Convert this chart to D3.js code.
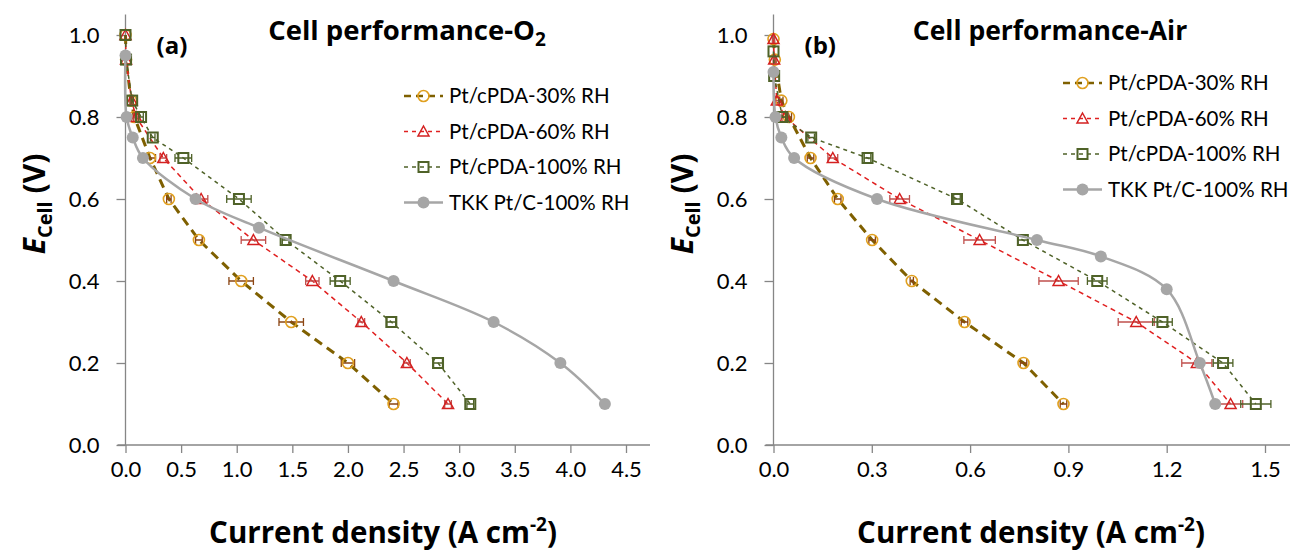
<!DOCTYPE html>
<html><head><meta charset="utf-8">
<script src="https://cdn.jsdelivr.net/npm/d3@7"></script>
<style>
html,body{margin:0;padding:0;background:#fff;}
svg{display:block;font-family:Lato,"Open Sans",sans-serif;}
</style></head>
<body>
<svg id="chart" width="1295" height="553"></svg>
<script>
// ---------- DATA ----------
const seriesNames = ["Pt/cPDA-30% RH", "Pt/cPDA-60% RH", "Pt/cPDA-100% RH", "TKK Pt/C-100% RH"];
const xTicksA = [0, 0.5, 1.0, 1.5, 2.0, 2.5, 3.0, 3.5, 4.0, 4.5];
const xTicksB = [0, 0.3, 0.6, 0.9, 1.2, 1.5];
const yTicks = [0, 0.2, 0.4, 0.6, 0.8, 1.0];

// Panel (a): O2
const vA30 = [1.0, 0.94, 0.84, 0.8, 0.7, 0.6, 0.5, 0.4, 0.3, 0.2, 0.1];
const iA30 = [0, 0.005, 0.05, 0.08, 0.22, 0.39, 0.66, 1.04, 1.49, 2.0, 2.41];
const eA30 = [0, 0, 0.01, 0.01, 0.05, 0.02, 0.03, 0.11, 0.11, 0.06, 0.04];
const vA60 = [1.0, 0.94, 0.84, 0.8, 0.7, 0.6, 0.5, 0.4, 0.3, 0.2, 0.1];
const iA60 = [0, 0.005, 0.055, 0.095, 0.34, 0.68, 1.15, 1.68, 2.12, 2.53, 2.9];
const eA60 = [0, 0, 0.01, 0.02, 0.03, 0.06, 0.11, 0.06, 0.03, 0.03, 0.03];
const vA100 = [1.0, 0.94, 0.84, 0.8, 0.75, 0.7, 0.6, 0.5, 0.4, 0.3, 0.2, 0.1];
const iA100 = [0, 0.005, 0.06, 0.14, 0.245, 0.52, 1.02, 1.44, 1.93, 2.39, 2.81, 3.1];
const eA100 = [0, 0, 0.01, 0.02, 0.02, 0.075, 0.11, 0.03, 0.09, 0.04, 0.04, 0.03];
const vATKK = [0.95, 0.8, 0.75, 0.7, 0.6, 0.53, 0.4, 0.3, 0.2, 0.1];
const iATKK = [0, 0.01, 0.065, 0.157, 0.63, 1.2, 2.41, 3.31, 3.91, 4.31];

// Panel (b): Air
const vB30 = [0.99, 0.94, 0.84, 0.8, 0.7, 0.6, 0.5, 0.4, 0.3, 0.2, 0.1];
const iB30 = [0, 0.004, 0.024, 0.047, 0.113, 0.196, 0.301, 0.422, 0.583, 0.763, 0.885];
const eB30 = [0.003, 0.003, 0.005, 0.008, 0.01, 0.01, 0.01, 0.005, 0.01, 0.01, 0.01];
const vB60 = [0.99, 0.94, 0.84, 0.8, 0.7, 0.6, 0.5, 0.4, 0.3, 0.2, 0.1];
const iB60 = [0, 0.002, 0.01, 0.036, 0.181, 0.385, 0.629, 0.87, 1.107, 1.292, 1.395];
const eB60 = [0.003, 0.003, 0.005, 0.01, 0.015, 0.03, 0.048, 0.06, 0.055, 0.046, 0.037];
const vB100 = [0.96, 0.9, 0.8, 0.75, 0.7, 0.6, 0.5, 0.4, 0.3, 0.2, 0.1];
const iB100 = [0, 0.002, 0.027, 0.115, 0.287, 0.56, 0.761, 0.988, 1.187, 1.372, 1.472];
const eB100 = [0, 0, 0.01, 0.01, 0.01, 0.01, 0.015, 0.03, 0.03, 0.03, 0.046];
const vBTKK = [0.91, 0.8, 0.75, 0.7, 0.6, 0.5, 0.46, 0.38, 0.2, 0.1];
const iBTKK = [0, 0.006, 0.024, 0.063, 0.316, 0.804, 0.999, 1.2, 1.301, 1.348];

// ---------- STYLES ----------
const styles = [
  {line:"#7f6000", width:3, dash:"9,6", marker:"circle", mstroke:"#e0a020", ebar:"#8b4513"},
  {line:"#e02020", width:1.5, dash:"5,4", marker:"triangle", mstroke:"#d42020", ebar:"#c0504d"},
  {line:"#4f6228", width:1.5, dash:"4,4", marker:"square", mstroke:"#4f6228", ebar:"#4f6228"},
  {line:"#a6a6a6", width:2.5, dash:null, marker:"dot", mstroke:"#a6a6a6", ebar:null}
];
const titleFont = "'Open Sans', Lato, sans-serif";
const bodyFont = "Lato, sans-serif";

const svg = d3.select("#chart");
const zip = (xs, ys, es) => xs.map((x, i) => ({x, y: ys[i], e: es ? es[i] : 0}));

function drawMarker(g, type, cx, cy, st) {
  if (type === "circle") {
    g.append("circle").attr("cx", cx).attr("cy", cy).attr("r", 5.5)
      .attr("fill", "none").attr("stroke", st.mstroke).attr("stroke-width", 1.6);
  } else if (type === "triangle") {
    const s = 5.5;
    g.append("path").attr("d", `M${cx},${cy - s}L${cx + s},${cy + s * 0.8}L${cx - s},${cy + s * 0.8}Z`)
      .attr("fill", "none").attr("stroke", st.mstroke).attr("stroke-width", 1.5);
  } else if (type === "square") {
    g.append("rect").attr("x", cx - 5).attr("y", cy - 5).attr("width", 10).attr("height", 10)
      .attr("fill", "none").attr("stroke", st.mstroke).attr("stroke-width", 2);
  } else {
    g.append("circle").attr("cx", cx).attr("cy", cy).attr("r", 6).attr("fill", st.mstroke);
  }
}

function panel(cfg) {
  const x = d3.scaleLinear().domain([0, cfg.xmax]).range([cfg.x0, cfg.x1]);
  const y = d3.scaleLinear().domain([0, 1.05]).range([445, 14.5]);
  const g = svg.append("g");

  const ya = g.append("g").attr("transform", `translate(${cfg.x0},0)`)
    .call(d3.axisLeft(y).tickValues(yTicks).tickFormat(d3.format(".1f")).tickSize(9).tickPadding(17));
  ya.select(".domain").attr("d", `M0,${y(1.05)}V${y(0)}`);
  const xa = g.append("g").attr("transform", `translate(0,${y(0)})`)
    .call(d3.axisBottom(x).tickValues(cfg.xticks).tickFormat(d3.format(".1f")).tickSize(8).tickPadding(8));
  xa.select(".domain").attr("d", `M${cfg.x0 - 8},0H${cfg.axisEnd}`);
  g.selectAll(".domain").attr("stroke", "#868686").attr("stroke-width", 1.3);
  g.selectAll(".tick line").attr("stroke", "#868686").attr("stroke-width", 1.3);
  g.selectAll(".tick text").attr("font-family", bodyFont).attr("font-size", 22).attr("fill", "#000");

  cfg.series.forEach((s, k) => {
    const st = styles[k];
    const pts = zip(s.i, s.v, s.e);
    const line = d3.line().x(d => x(d.x)).y(d => y(d.y))
      .curve(st.marker === "dot" ? d3.curveCatmullRom.alpha(0.5) : d3.curveLinear);
    g.append("path").attr("d", line(pts)).attr("fill", "none")
      .attr("stroke", st.line).attr("stroke-width", st.width)
      .attr("stroke-dasharray", st.dash);
    const mg = g.append("g");
    pts.forEach(p => {
      if (st.ebar && p.e > 0) {
        const xl = x(p.x - p.e), xr = x(p.x + p.e), cy = y(p.y);
        mg.append("path").attr("d", `M${xl},${cy}H${xr}M${xl},${cy - 4}V${cy + 4}M${xr},${cy - 4}V${cy + 4}`)
          .attr("stroke", st.ebar).attr("stroke-width", 1.3).attr("fill", "none");
      }
      drawMarker(mg, st.marker, x(p.x), y(p.y), st);
    });
  });

  seriesNames.forEach((name, k) => {
    const st = styles[k];
    const ly = cfg.legY + k * 35.5;
    const lg = g.append("g");
    lg.append("line").attr("x1", cfg.legX).attr("x2", cfg.legX + 39).attr("y1", ly).attr("y2", ly)
      .attr("stroke", st.line).attr("stroke-width", (k === 0 || k === 3) ? 2.5 : 1.5)
      .attr("stroke-dasharray", st.marker === "dot" ? null : (k === 0 ? "7,5" : "4,4"));
    drawMarker(lg, st.marker, cfg.legX + 19.5, ly, st);
    lg.append("text").attr("x", cfg.legX + 45).attr("y", ly + 7)
      .attr("font-family", bodyFont).attr("font-size", 20.5).attr("fill", "#000").text(name);
  });

  const t = g.append("text").attr("x", cfg.titleX).attr("y", 40).attr("text-anchor", "middle")
    .attr("font-family", titleFont).attr("font-weight", "bold").attr("font-size", cfg.titleSize).attr("fill", "#000");
  t.append("tspan").text(cfg.title);
  if (cfg.sub) t.append("tspan").attr("font-size", 19).attr("dy", 6).text(cfg.sub);

  g.append("text").attr("x", cfg.x0 + 31).attr("y", 54).attr("font-family", titleFont)
    .attr("font-weight", "bold").attr("font-size", 24).text(cfg.tag);

  const yt = g.append("text").attr("transform", `translate(${cfg.yTitleX},204) rotate(-90)`)
    .attr("text-anchor", "middle").attr("font-family", titleFont).attr("font-weight", "bold")
    .attr("font-size", 30).attr("fill", "#000");
  yt.append("tspan").attr("font-style", "italic").text("E");
  yt.append("tspan").attr("font-size", 20).attr("dy", 7).text("Cell");
  yt.append("tspan").attr("dy", -7).text(" (V)");

  const xt = g.append("text").attr("x", cfg.xTitleX).attr("y", 543).attr("text-anchor", "middle")
    .attr("font-family", titleFont).attr("font-weight", "bold").attr("font-size", 29.5).attr("fill", "#000");
  xt.append("tspan").text("Current density (A cm");
  xt.append("tspan").attr("font-size", 19).attr("dy", -12).text("-2");
  xt.append("tspan").attr("dy", 12).text(")");
}

panel({
  xmax: 4.5, x0: 125.5, x1: 626, axisEnd: 650, xticks: xTicksA,
  series: [{i: iA30, v: vA30, e: eA30}, {i: iA60, v: vA60, e: eA60}, {i: iA100, v: vA100, e: eA100}, {i: iATKK, v: vATKK, e: null}],
  legX: 404, legY: 96, title: "Cell performance-O", sub: "2", titleX: 407, titleSize: 27.5, tag: "(a)",
  yTitleX: 45, xTitleX: 383
});
panel({
  xmax: 1.5, x0: 773.5, x1: 1265, axisEnd: 1290, xticks: xTicksB,
  series: [{i: iB30, v: vB30, e: eB30}, {i: iB60, v: vB60, e: eB60}, {i: iB100, v: vB100, e: eB100}, {i: iBTKK, v: vBTKK, e: null}],
  legX: 1063, legY: 83, title: "Cell performance-Air", sub: null, titleX: 1050, titleSize: 26.5, tag: "(b)",
  yTitleX: 693, xTitleX: 1031
});
</script>
</body></html>
